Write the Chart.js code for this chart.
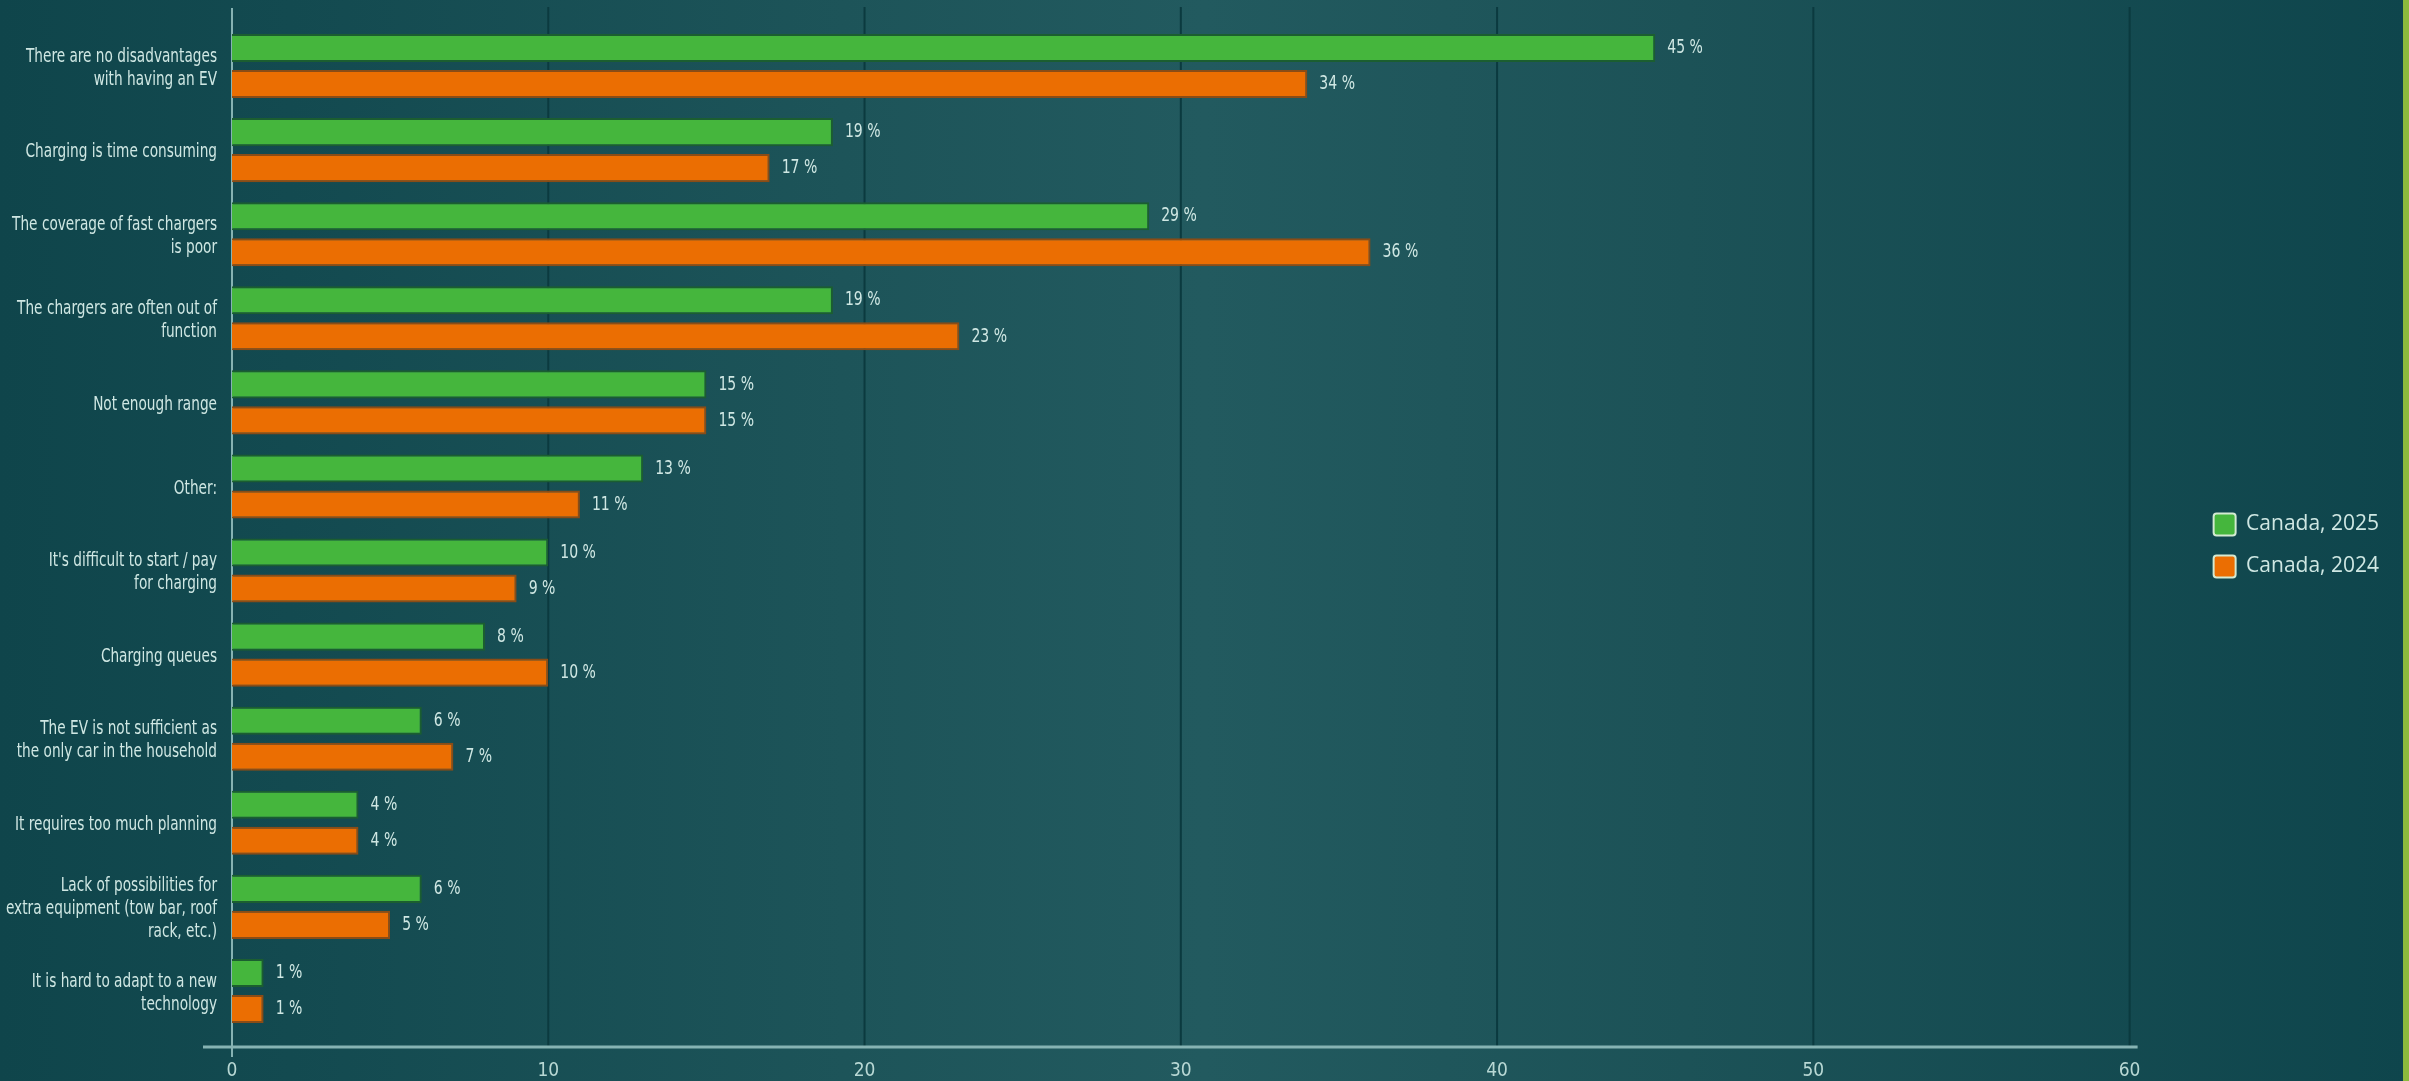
<!DOCTYPE html>
<html>
<head>
<meta charset="utf-8">
<script src="https://cdn.jsdelivr.net/npm/chart.js@4.4.1/dist/chart.umd.min.js"></script>
<style>
  html, body { margin: 0; padding: 0; }
  body {
    width: 2409px; height: 1081px; overflow: hidden;
    background: linear-gradient(90deg, #0f454b 0%, #134a50 12%, #1d5459 35%, #225a5f 50%, #1c5257 70%, #0e454c 100%);
  }
  #wrap { position: relative; width: 2409px; height: 1081px; }
  #stripe { position: absolute; right: 0; top: 0; width: 6px; height: 1081px; background: #8cba3c; }
</style>
</head>
<body>
<div id="wrap">
  <canvas id="evChart"></canvas>
  <div id="stripe"></div>
</div>
<script>
// data
const categories = [
  ['There are no disadvantages', 'with having an EV'],
  'Charging is time consuming',
  ['The coverage of fast chargers', 'is poor'],
  ['The chargers are often out of', 'function'],
  'Not enough range',
  'Other:',
  ["It's difficult to start / pay", 'for charging'],
  'Charging queues',
  ['The EV is not sufficient as', 'the only car in the household'],
  'It requires too much planning',
  ['Lack of possibilities for', 'extra equipment (tow bar, roof', 'rack, etc.)'],
  ['It is hard to adapt to a new', 'technology']
];
const seriesNames = ['Canada, 2025', 'Canada, 2024'];
const canada2025 = [45, 19, 29, 19, 15, 13, 10, 8, 6, 4, 6, 1];
const canada2024 = [34, 17, 36, 23, 15, 11, 9, 10, 7, 4, 5, 1];
const xTicks = [0, 10, 20, 30, 40, 50, 60];

const NARROW = "'DejaVu Sans Condensed', 'DejaVu Sans', sans-serif";
const TEXT = '#cfe7e3';

// narrow text: the original uses a condensed face, squeeze DejaVu a bit
function narrowText(ctx, text, x, y, sx) {
  ctx.save();
  ctx.translate(x, y);
  ctx.scale(sx, 1);
  ctx.fillText(text, 0, 0);
  ctx.restore();
}

// grid + axis lines (reach past the plot area like the original)
const axisLines = {
  id: 'axisLines',
  beforeDatasetsDraw(chart) {
    const { ctx, chartArea, scales: { x } } = chart;
    const top = chartArea.top - 17, base = chartArea.bottom + 14;
    ctx.save();
    ctx.strokeStyle = '#0b3a3f';
    ctx.lineWidth = 2;
    xTicks.slice(1).forEach(v => {
      const px = x.getPixelForValue(v);
      ctx.beginPath(); ctx.moveTo(px, top); ctx.lineTo(px, base); ctx.stroke();
    });
    ctx.strokeStyle = '#86b3b3';
    ctx.lineWidth = 3;
    const x0 = x.getPixelForValue(xTicks[0]);
    const xEnd = x.getPixelForValue(xTicks[xTicks.length - 1]);
    ctx.beginPath(); ctx.moveTo(x0 - 29, base); ctx.lineTo(xEnd + 8, base); ctx.stroke();
    ctx.lineWidth = 2;
    ctx.beginPath(); ctx.moveTo(x0, top + 1); ctx.lineTo(x0, base + 10); ctx.stroke();
    ctx.restore();
  }
};

// category names, right aligned next to the axis
const categoryLabels = {
  id: 'categoryLabels',
  afterDraw(chart) {
    const { ctx, scales: { y } } = chart;
    ctx.save();
    ctx.font = `20px ${NARROW}`;
    ctx.fillStyle = TEXT;
    ctx.textAlign = 'right';
    ctx.textBaseline = 'middle';
    categories.forEach((lab, i) => {
      const lines = Array.isArray(lab) ? lab : [lab];
      const cy = y.getPixelForValue(i) + 2;
      lines.forEach((line, k) => {
        narrowText(ctx, line, y.right - 15, cy + (k - (lines.length - 1) / 2) * 23, 0.76);
      });
    });
    ctx.restore();
  }
};

// "45 %" labels at the bar ends
const valueLabels = {
  id: 'valueLabels',
  afterDatasetsDraw(chart) {
    const { ctx } = chart;
    ctx.save();
    ctx.font = `20px ${NARROW}`;
    ctx.fillStyle = TEXT;
    ctx.textBaseline = 'middle';
    chart.data.datasets.forEach((ds, i) => {
      chart.getDatasetMeta(i).data.forEach((bar, j) => {
        narrowText(ctx, ds.data[j] + ' %', bar.x + 12, bar.y, 0.78);
      });
    });
    ctx.restore();
  }
};

new Chart(document.getElementById('evChart'), {
  type: 'bar',
  data: {
    labels: categories,
    datasets: [
      { label: seriesNames[0], data: canada2025, backgroundColor: '#45b63d', borderColor: '#1b5e30', borderWidth: 2 },
      { label: seriesNames[1], data: canada2024, backgroundColor: '#eb6e02', borderColor: '#8a4c16', borderWidth: 2 }
    ]
  },
  options: {
    indexAxis: 'y',
    responsive: true, maintainAspectRatio: false,
    animation: false,
    categoryPercentage: 0.857,
    barPercentage: 0.78,
    layout: { padding: { top: 10, right: 20, left: 0, bottom: 0 } },
    scales: {
      x: {
        min: xTicks[0], max: xTicks[xTicks.length - 1],
        grid: { display: false, drawTicks: false },
        border: { display: false },
        ticks: { stepSize: xTicks[1] - xTicks[0], color: '#b8d8d4', font: { family: NARROW, size: 19 }, padding: 27 },
        afterFit(s) { s.height = 48; }
      },
      xPad: {
        type: 'linear', position: 'top', display: true,
        grid: { display: false, drawTicks: false },
        border: { display: false },
        ticks: { display: false },
        afterFit(s) { s.height = 14; }
      },
      y: {
        grid: { display: false, drawTicks: false },
        border: { display: false },
        ticks: { display: false },
        afterFit(s) { s.width = 232; }
      },
      yPad: {
        type: 'category', position: 'right', display: true,
        grid: { display: false, drawTicks: false },
        border: { display: false },
        ticks: { display: false },
        afterFit(s) { s.width = 64; }
      }
    },
    plugins: {
      tooltip: { enabled: false },
      legend: {
        position: 'right', align: 'center',
        labels: {
          boxWidth: 22, boxHeight: 22, padding: 20,
          color: TEXT, font: { family: "'Open Sans', sans-serif", size: 21 },
          useBorderRadius: true, borderRadius: 3,
          generateLabels(chart) {
            const items = Chart.defaults.plugins.legend.labels.generateLabels(chart);
            items.forEach(it => { it.strokeStyle = '#d3ead2'; it.lineWidth = 2; });
            return items;
          }
        }
      }
    }
  },
  plugins: [axisLines, categoryLabels, valueLabels]
});
</script>
</body>
</html>
